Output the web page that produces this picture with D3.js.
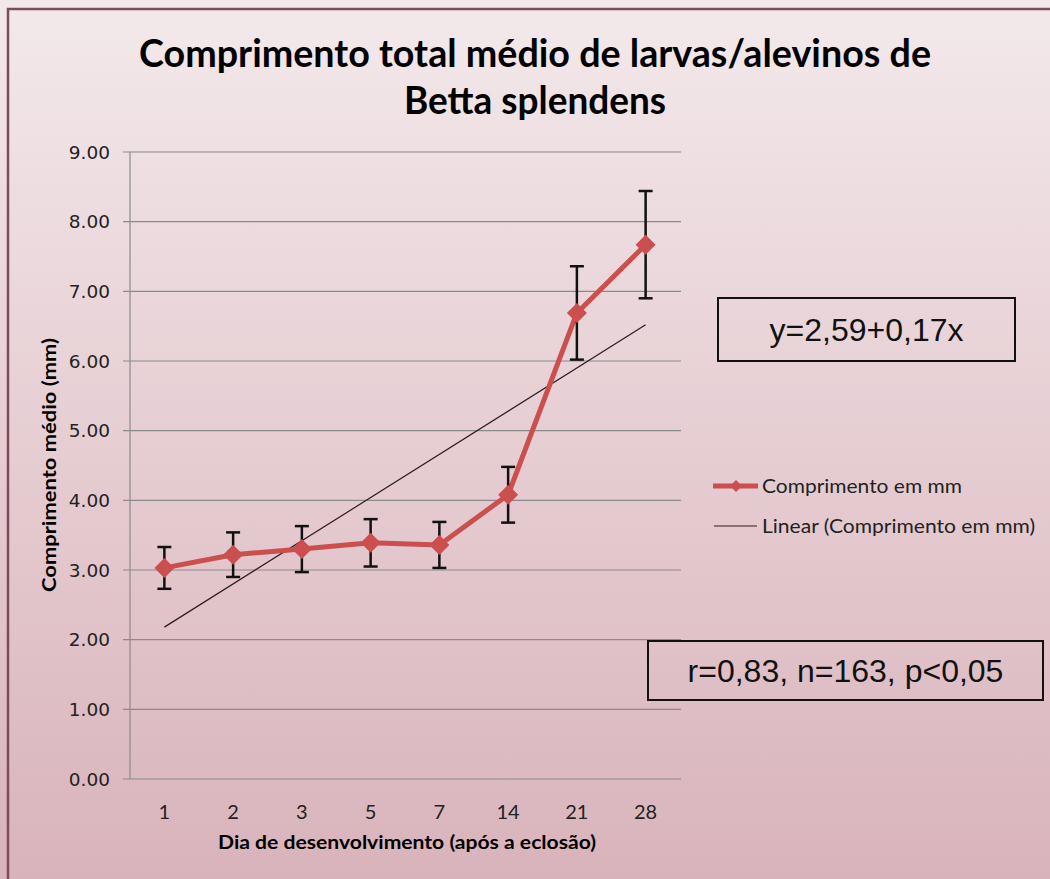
<!DOCTYPE html>
<html>
<head>
<meta charset="utf-8">
<script src="https://cdn.jsdelivr.net/npm/d3@7"></script>
<style>
  body { margin: 0; background: #ffffff; }
  svg { display: block; }
</style>
</head>
<body>
<div id="chart"></div>
<script>
// data
var days = ["1", "2", "3", "5", "7", "14", "21", "28"];
var meanLength = [3.03, 3.22, 3.30, 3.39, 3.36, 4.08, 6.69, 7.67];
var errLength = [0.30, 0.32, 0.33, 0.34, 0.33, 0.40, 0.67, 0.77];
var trendEnds = [2.18, 6.52]; // linear trendline at first and last day
var yTicks = [0, 1, 2, 3, 4, 5, 6, 7, 8, 9];

var W = 1050, H = 879;
var margin = { top: 152, right: 370, bottom: 100, left: 130 },
  width = 680 - margin.left,
  height = 779 - margin.top;

var svg = d3.select("#chart")
  .append("svg")
  .attr("width", W)
  .attr("height", H);

// background gradient
var defs = svg.append("defs");
var grad = defs.append("linearGradient")
  .attr("id", "bg")
  .attr("x1", 0).attr("y1", 0).attr("x2", 0).attr("y2", 1);
grad.append("stop").attr("offset", "0%").attr("stop-color", "#f3e9eb");
grad.append("stop").attr("offset", "100%").attr("stop-color", "#d9b3bb");

svg.append("rect")
  .attr("x", 0).attr("y", 0)
  .attr("width", W).attr("height", H)
  .attr("fill", "url(#bg)");

// chart border (left and top edges visible)
svg.append("path")
  .attr("d", "M8,879 V9 H1050")
  .attr("fill", "none")
  .attr("stroke", "#7d4b5e")
  .attr("stroke-width", 2.5);

// title
var title = svg.append("g")
  .attr("font-family", "Lato, 'Open Sans', sans-serif")
  .attr("font-weight", "bold")
  .attr("font-size", 39)
  .attr("fill", "#000")
  .attr("text-anchor", "middle");
title.append("text")
  .attr("x", 535).attr("y", 67)
  .attr("textLength", 792)
  .attr("lengthAdjust", "spacingAndGlyphs")
  .text("Comprimento total médio de larvas/alevinos de");
title.append("text")
  .attr("x", 535).attr("y", 114)
  .attr("textLength", 262)
  .attr("lengthAdjust", "spacingAndGlyphs")
  .text("Betta splendens");

var g = svg.append("g")
  .attr("transform", "translate(" + margin.left + "," + margin.top + ")");

// scales
var x = d3.scaleBand()
  .domain(days)
  .range([0, width]);

var y = d3.scaleLinear()
  .domain([0, 9])
  .range([height, 0]);

// gridlines
g.append("g")
  .selectAll("line")
  .data(yTicks)
  .enter()
  .append("line")
  .attr("x1", -7)
  .attr("x2", width + 1)
  .attr("y1", function (d) { return y(d); })
  .attr("y2", function (d) { return y(d); })
  .attr("stroke", "#8a8a8a")
  .attr("stroke-width", 1.2);

// y axis line
g.append("line")
  .attr("x1", 0).attr("x2", 0)
  .attr("y1", 0).attr("y2", height)
  .attr("stroke", "#8a8a8a")
  .attr("stroke-width", 1.2);

// y tick labels
g.append("g")
  .selectAll("text")
  .data(yTicks)
  .enter()
  .append("text")
  .attr("x", -20)
  .attr("y", function (d) { return y(d); })
  .attr("dy", "0.36em")
  .attr("text-anchor", "end")
  .attr("font-family", "'DejaVu Sans', Verdana, sans-serif")
  .attr("font-size", 18.5)
  .attr("fill", "#222")
  .text(function (d) { return d3.format(".2f")(d); });

// x tick labels
g.append("g")
  .selectAll("text")
  .data(days)
  .enter()
  .append("text")
  .attr("x", function (d) { return x(d) + x.bandwidth() / 2; })
  .attr("y", height + 40)
  .attr("text-anchor", "middle")
  .attr("font-family", "Lato, 'Open Sans', sans-serif")
  .attr("font-size", 20)
  .attr("fill", "#222")
  .text(function (d) { return d; });

// axis titles
svg.append("text")
  .attr("x", 407).attr("y", 849)
  .attr("text-anchor", "middle")
  .attr("font-family", "Lato, 'Open Sans', sans-serif")
  .attr("font-weight", "bold")
  .attr("font-size", 19)
  .attr("textLength", 378)
  .attr("lengthAdjust", "spacingAndGlyphs")
  .attr("fill", "#000")
  .text("Dia de desenvolvimento (após a eclosão)");

svg.append("text")
  .attr("transform", "translate(56,465) rotate(-90)")
  .attr("text-anchor", "middle")
  .attr("font-family", "Lato, 'Open Sans', sans-serif")
  .attr("font-weight", "bold")
  .attr("font-size", 19)
  .attr("textLength", 254)
  .attr("lengthAdjust", "spacingAndGlyphs")
  .attr("fill", "#000")
  .text("Comprimento médio  (mm)");

var cx = function (i) { return x(days[i]) + x.bandwidth() / 2; };

// trendline
g.append("line")
  .attr("x1", cx(0))
  .attr("x2", cx(days.length - 1))
  .attr("y1", y(trendEnds[0]))
  .attr("y2", y(trendEnds[1]))
  .attr("stroke", "#2b1b1f")
  .attr("stroke-width", 1.2);

// main line
var line = d3.line()
  .x(function (d, i) { return cx(i); })
  .y(function (d) { return y(d); });

g.append("path")
  .datum(meanLength)
  .attr("d", line)
  .attr("fill", "none")
  .attr("stroke", "#cc4f4f")
  .attr("stroke-width", 5)
  .attr("stroke-linejoin", "round");

// error bars
var eb = g.append("g")
  .attr("stroke", "#111")
  .attr("stroke-width", 2.5)
  .attr("fill", "none");
meanLength.forEach(function (m, i) {
  var top = y(m + errLength[i]), bot = y(m - errLength[i]), px = cx(i);
  eb.append("line").attr("x1", px).attr("x2", px).attr("y1", top).attr("y2", bot);
  eb.append("line").attr("x1", px - 7).attr("x2", px + 7).attr("y1", top).attr("y2", top);
  eb.append("line").attr("x1", px - 7).attr("x2", px + 7).attr("y1", bot).attr("y2", bot);
});

// diamond markers
g.append("g")
  .selectAll("path")
  .data(meanLength)
  .enter()
  .append("path")
  .attr("transform", function (d, i) { return "translate(" + cx(i) + "," + y(d) + ")"; })
  .attr("d", "M0,-10 L10,0 L0,10 L-10,0 Z")
  .attr("fill", "#cc4f4f");

// legend
var lg = svg.append("g")
  .attr("font-family", "Lato, 'Open Sans', sans-serif")
  .attr("font-size", 19.5)
  .attr("fill", "#222");
lg.append("line")
  .attr("x1", 713).attr("x2", 758).attr("y1", 486).attr("y2", 486)
  .attr("stroke", "#cc4f4f").attr("stroke-width", 5);
lg.append("path")
  .attr("transform", "translate(736,486)")
  .attr("d", "M0,-6 L6,0 L0,6 L-6,0 Z")
  .attr("fill", "#cc4f4f");
lg.append("text").attr("x", 762).attr("y", 493)
  .attr("textLength", 200).attr("lengthAdjust", "spacingAndGlyphs")
  .text("Comprimento em mm");
lg.append("line")
  .attr("x1", 714).attr("x2", 757).attr("y1", 526).attr("y2", 526)
  .attr("stroke", "#2b1b1f").attr("stroke-width", 1.2);
lg.append("text").attr("x", 762).attr("y", 533)
  .attr("textLength", 273).attr("lengthAdjust", "spacingAndGlyphs")
  .text("Linear (Comprimento em mm)");

// annotation boxes
var boxes = [
  { x: 718, y: 298, w: 297, h: 63, text: "y=2,59+0,17x" },
  { x: 648, y: 641, w: 395, h: 59, text: "r=0,83, n=163, p<0,05" }
];
boxes.forEach(function (b) {
  svg.append("rect")
    .attr("x", b.x).attr("y", b.y)
    .attr("width", b.w).attr("height", b.h)
    .attr("fill", "none")
    .attr("stroke", "#111")
    .attr("stroke-width", 2);
  svg.append("text")
    .attr("x", b.x + b.w / 2)
    .attr("y", b.y + b.h / 2)
    .attr("dy", "0.36em")
    .attr("text-anchor", "middle")
    .attr("font-family", "'Liberation Sans', Arial, sans-serif")
    .attr("font-size", 32)
    .attr("fill", "#111")
    .text(b.text);
});
</script>
</body>
</html>
